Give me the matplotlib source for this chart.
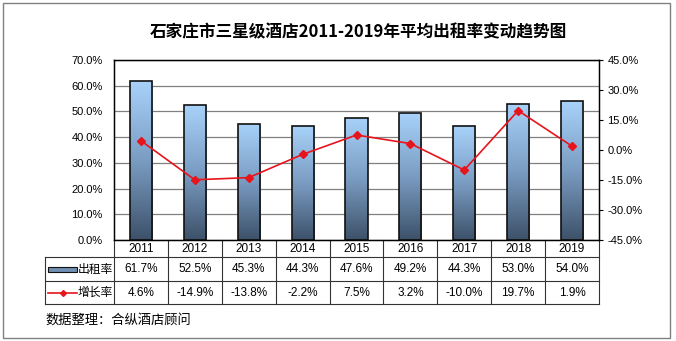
import numpy as np
import matplotlib
matplotlib.use('Agg')
import matplotlib.pyplot as plt
from matplotlib.transforms import blended_transform_factory
from matplotlib.patches import Rectangle
from matplotlib.lines import Line2D

plt.rcParams['font.family'] = ['Liberation Sans', 'Noto Sans CJK SC', 'DejaVu Sans']

years = ['2011', '2012', '2013', '2014', '2015', '2016', '2017', '2018', '2019']
occupancy = [61.7, 52.5, 45.3, 44.3, 47.6, 49.2, 44.3, 53.0, 54.0]
growth = [4.6, -14.9, -13.8, -2.2, 7.5, 3.2, -10.0, 19.7, 1.9]
occ_labels = ['61.7%', '52.5%', '45.3%', '44.3%', '47.6%', '49.2%', '44.3%', '53.0%', '54.0%']
growth_labels = ['4.6%', '-14.9%', '-13.8%', '-2.2%', '7.5%', '3.2%', '-10.0%', '19.7%', '1.9%']

cjk = ['Noto Sans CJK SC', 'DejaVu Sans']

fig = plt.figure(figsize=(6.76, 3.41), dpi=100)
fig.patches.append(Rectangle((3 / 676, 3 / 341), 667 / 676, 335 / 341, transform=fig.transFigure,
                             fill=False, edgecolor='#808080', linewidth=1))

ax = fig.add_axes([114 / 676, 101 / 341, 485 / 676, 180 / 341])
x = np.arange(len(years))

# gradient bars
grad = np.linspace(0, 1, 256).reshape(-1, 1)
cmap = matplotlib.colors.LinearSegmentedColormap.from_list('bar', ['#3d5169', '#7a9cc2', '#a8d2fa'])
bars = ax.bar(x, occupancy, width=0.41, facecolor='none', edgecolor='#111111', linewidth=1.2, zorder=3)
for b in bars:
    x0, y0 = b.get_x(), b.get_y()
    im = ax.imshow(grad, cmap=cmap, origin='lower', aspect='auto',
                   extent=[x0, x0 + b.get_width(), y0, y0 + b.get_height()], zorder=2)
    im.set_clip_path(b)

ax.set_xlim(-0.5, len(years) - 0.5)
ax.set_ylim(0, 70)
ax.set_yticks(np.arange(0, 71, 10))
ax.set_yticklabels(['%.1f%%' % v for v in np.arange(0, 71, 10)], fontsize=8)
ax.yaxis.grid(True, color='#808080', linewidth=0.9, zorder=0)
ax.set_axisbelow(True)
ax.tick_params(axis='y', length=0, pad=8)
ax.set_xticks([])
for s in ax.spines.values():
    s.set_linewidth(1.0)

ax2 = ax.twinx()
ax2.plot(x, growth, color='#e8141c', linewidth=1.2, marker='D', markersize=4, zorder=5)
ax2.set_ylim(-45, 45)
ax2.set_yticks(np.arange(-45, 46, 15))
ax2.set_yticklabels(['%.1f%%' % v for v in np.arange(-45, 46, 15)], fontsize=8)
ax2.tick_params(axis='y', length=3, direction='out', pad=3)
ax2.set_xlim(-0.5, len(years) - 0.5)

fig.text(0.53, 0.905, '石家庄市三星级酒店2011-2019年平均出租率变动趋势图', ha='center', va='center',
         fontsize=12, fontweight='bold', family=cjk)

# data table under the axes
tr = blended_transform_factory(ax.transData, ax.transAxes)
h_left = -0.5 - 69 / 53.9
r1, r2, r3 = -17 / 180, -41 / 180, -64 / 180
lw = 0.8
ax.add_line(Line2D([h_left, 8.5], [r1, r1], transform=tr, color='#333333', lw=lw, clip_on=False))
ax.add_line(Line2D([h_left, 8.5], [r2, r2], transform=tr, color='#333333', lw=lw, clip_on=False))
ax.add_line(Line2D([h_left, 8.5], [r3, r3], transform=tr, color='#333333', lw=lw, clip_on=False))
ax.add_line(Line2D([h_left, h_left], [r1, r3], transform=tr, color='#333333', lw=lw, clip_on=False))
for i in range(len(years) + 1):
    ax.add_line(Line2D([i - 0.5, i - 0.5], [0, r3], transform=tr, color='#333333', lw=lw, clip_on=False))
for i in range(len(years)):
    ax.text(i, r1 / 2, years[i], transform=tr, ha='center', va='center', fontsize=8.5)
    ax.text(i, (r1 + r2) / 2, occ_labels[i], transform=tr, ha='center', va='center', fontsize=8.5)
    ax.text(i, (r2 + r3) / 2, growth_labels[i], transform=tr, ha='center', va='center', fontsize=8.5)

# row headers with legend keys
trf = fig.transFigure
ky1 = (341 - 269) / 341
ky2 = (341 - 292.5) / 341
fig.patches.append(Rectangle((48 / 676, ky1 - 2.5 / 341), 29 / 676, 5 / 341, transform=trf,
                             facecolor='#6f8fb3', edgecolor='#111111', linewidth=0.8))
fig.text(78 / 676, ky1, '出租率', ha='left', va='center', fontsize=8.5, family=cjk)
fig.lines.append(Line2D([48 / 676, 77 / 676], [ky2, ky2], transform=trf, color='#e8141c', lw=1.2))
fig.lines.append(Line2D([62.5 / 676], [ky2], transform=trf, color='#e8141c', marker='D', markersize=3))
fig.text(78 / 676, ky2, '增长率', ha='left', va='center', fontsize=8.5, family=cjk)

fig.text(45 / 676, (341 - 320) / 341, '数据整理：合纵酒店顾问', ha='left', va='center',
         fontsize=9.5, family=cjk)

fig.savefig('out.png', dpi=100)
